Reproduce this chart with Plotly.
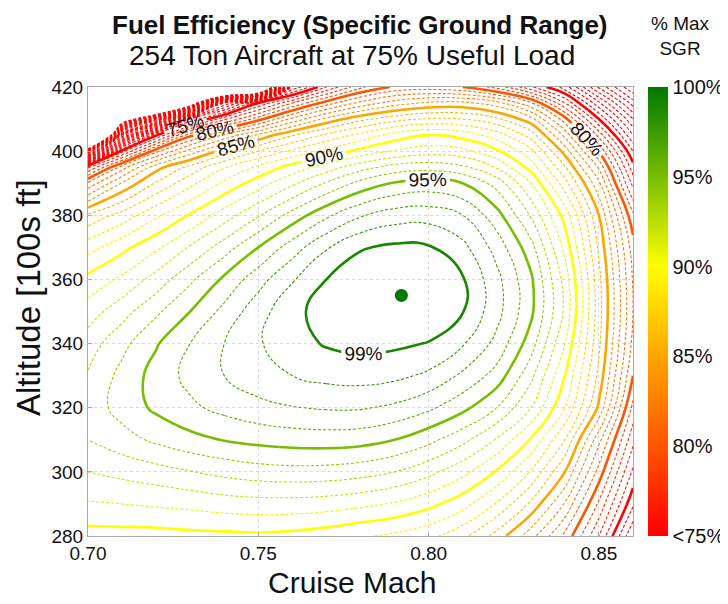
import numpy as np
import plotly.graph_objects as go

# ---- data ----
mach = [0.70, 0.71, 0.72, 0.73, 0.74, 0.75, 0.76, 0.77, 0.78, 0.79, 0.80,
        0.81, 0.82, 0.83, 0.84, 0.85, 0.86]
altitude = [280, 290, 300, 310, 320, 330, 340, 350, 360, 370, 380, 390,
            395, 400, 405, 410, 415, 420]

# % of max SGR, one row per altitude (ascending), one value per Mach
sgr_280 = [89.6, 89.6, 89.6, 89.7, 89.75, 89.8, 89.7, 89.45, 89.1, 88.8, 88.3, 87.3, 85.6, 83.4, 80.8, 77.0, 72.0]
sgr_290 = [90.9, 91.0, 91.15, 91.3, 91.5, 91.6, 91.6, 91.5, 91.25, 90.9, 90.3, 89.4, 87.9, 85.8, 82.9, 78.8, 74.2]
sgr_300 = [92.0, 92.3, 92.6, 92.95, 93.3, 93.55, 93.65, 93.6, 93.4, 93.0, 92.3, 91.3, 89.9, 87.9, 85.0, 80.6, 75.8]
sgr_310 = [93.0, 93.6, 94.2, 94.7, 95.05, 95.3, 95.45, 95.5, 95.4, 95.0, 94.3, 93.3, 91.9, 89.9, 87.0, 82.3, 77.3]
sgr_320 = [93.4, 94.4, 95.2, 95.8, 96.3, 96.7, 96.95, 97.1, 97.1, 96.8, 96.2, 95.3, 94.0, 92.0, 89.0, 84.8, 78.7]
sgr_330 = [93.1, 94.3, 95.4, 96.3, 97.0, 97.6, 98.0, 98.3, 98.4, 98.25, 97.8, 96.8, 95.6, 93.3, 90.0, 85.7, 80.0]
sgr_340 = [92.5, 93.7, 94.9, 96.0, 97.0, 97.9, 98.6, 99.1, 99.3, 99.2, 98.95, 98.1, 96.7, 94.5, 91.0, 86.2, 80.7]
sgr_350 = [91.5, 92.6, 93.8, 95.0, 96.3, 97.6, 98.7, 99.45, 99.8, 99.9, 99.75, 99.05, 97.35, 95.25, 91.8, 86.4, 81.0]
sgr_360 = [90.3, 91.2, 92.4, 93.8, 95.2, 96.6, 97.9, 99.0, 99.7, 99.85, 99.65, 99.1, 97.3, 95.2, 91.6, 86.3, 80.9]
sgr_370 = [88.6, 89.7, 90.8, 92.1, 93.5, 95.0, 96.5, 97.9, 98.9, 99.2, 99.1, 98.3, 96.6, 94.4, 90.7, 85.8, 80.5]
sgr_380 = [86.2, 87.4, 88.8, 90.1, 91.5, 92.9, 94.4, 95.8, 96.9, 97.5, 97.6, 97.0, 95.4, 92.9, 89.6, 85.0, 79.2]
sgr_390 = [81.2, 84.1, 86.1, 87.7, 89.2, 90.5, 91.8, 93.1, 94.3, 95.1, 95.4, 95.0, 93.6, 91.0, 87.4, 83.2, 76.6]
sgr_395 = [76.8, 81.5, 84.6, 86.3, 87.9, 89.2, 90.4, 91.5, 92.6, 93.4, 93.6, 93.2, 91.9, 89.6, 86.1, 81.8, 75.4]
sgr_400 = [55.0, 75.6, 80.7, 83.4, 85.5, 87.0, 88.2, 89.3, 90.3, 91.1, 91.5, 91.3, 90.2, 88.3, 84.6, 79.9, 74.0]
sgr_405 = [20.0, 64.0, 74.8, 79.7, 82.2, 84.2, 85.9, 87.2, 88.3, 89.4, 90.0, 89.6, 88.5, 86.6, 82.7, 77.6, 72.0]
sgr_410 = [10.0, 45.0, 58.0, 73.0, 76.8, 79.6, 82.3, 84.3, 85.7, 86.6, 87.1, 87.0, 86.2, 84.4, 80.4, 75.0, 70.0]
sgr_415 = [10.0, 20.0, 30.0, 45.0, 70.0, 75.0, 78.0, 80.5, 82.3, 83.5, 84.2, 84.3, 83.4, 81.2, 77.0, 72.2, 67.5]
sgr_420 = [10.0, 10.0, 10.0, 15.0, 25.0, 35.0, 72.0, 76.0, 78.8, 80.2, 80.4, 80.0, 78.6, 76.2, 73.6, 68.8, 65.0]

optimum_mach = [0.792]
optimum_alt = [355]

labelled_levels = [75, 80, 85, 90, 95, 99]
lowest_level = 50
highest_level = 99

colorbar_vals = [0.75, 0.80, 0.85, 0.90, 0.95, 1.00]
colorbar_text = ["<75%", "80%", "85%", "90%", "95%", "100%"]
x_ticks = [0.70, 0.75, 0.80, 0.85]
y_ticks = [280, 300, 320, 340, 360, 380, 400, 420]

z = np.array([sgr_280, sgr_290, sgr_300, sgr_310, sgr_320, sgr_330, sgr_340,
              sgr_350, sgr_360, sgr_370, sgr_380, sgr_390, sgr_395, sgr_400,
              sgr_405, sgr_410, sgr_415, sgr_420]) / 100.0

# colour scale (fraction of the 75%..100% range)
stops = [(0.0, (255, 0, 0)), (0.2, (255, 85, 0)), (0.4, (255, 165, 0)),
         (0.6, (255, 255, 0)), (0.8, (120, 190, 0)), (1.0, (0, 120, 0))]
cscale = [[p, "rgb(%d,%d,%d)" % c] for p, c in stops]


def level_color(v):
    t = min(max((v - 0.75) / 0.25, 0.0), 1.0)
    for (p0, c0), (p1, c1) in zip(stops[:-1], stops[1:]):
        if t <= p1 + 1e-9:
            f = 0 if p1 == p0 else (t - p0) / (p1 - p0)
            return "rgb(%d,%d,%d)" % tuple(round(a + (b - a) * f) for a, b in zip(c0, c1))
    return "rgb(%d,%d,%d)" % stops[-1][1]


FONT = "Liberation Sans, Arial, Helvetica, sans-serif"
label_font = dict(family=FONT, size=19, color="#111111")

fig = go.Figure()

for lev in range(lowest_level, highest_level + 1):
    v = lev / 100.0
    col = level_color(v)
    solid = lev in labelled_levels
    fig.add_trace(go.Contour(
        x=mach, y=altitude, z=z, showscale=False, hoverinfo="skip",
        colorscale=[[0, col], [1, col]],
        contours=dict(coloring="lines", start=v, end=v, size=0.01,
                      showlabels=solid, labelfont=label_font, labelformat=".0%"),
        line=dict(width=2.6 if solid else 1.1, dash="solid" if solid else "3px,2px",
                  smoothing=1.3),
    ))

# optimum point, also carrying the colour bar
fig.add_trace(go.Scatter(
    x=optimum_mach, y=optimum_alt, mode="markers", hoverinfo="skip",
    marker=dict(size=13, color=[1.0], colorscale=cscale, cmin=0.75, cmax=1.0,
                showscale=True,
                colorbar=dict(x=1.0275, xanchor="left", xpad=0, y=0.5,
                              yanchor="middle", ypad=0, len=449, lenmode="pixels",
                              thickness=20, outlinewidth=0,
                              tickvals=colorbar_vals, ticktext=colorbar_text,
                              ticks="", tickfont=dict(family=FONT, size=20, color="#111"))),
    showlegend=False,
))

# the page adds an 8px body margin, so the figure is 8px smaller each way
fig.update_layout(
    width=720, height=596,
    margin=dict(l=80, r=95, t=79, b=68, autoexpand=False),
    paper_bgcolor="white", plot_bgcolor="white",
    font=dict(family=FONT, color="#111"),
    showlegend=False,
    xaxis=dict(range=[0.70, 0.86], tickvals=x_ticks, tickformat=".2f",
               tickfont=dict(size=19), showgrid=True, gridcolor="#d9d9d9",
               griddash="dot", zeroline=False, showline=True, linecolor="#aaaaaa",
               mirror=True, ticks="inside", ticklen=4, tickcolor="#aaaaaa",
               automargin=False),
    yaxis=dict(range=[280, 420], tickvals=y_ticks, tickfont=dict(size=19),
               showgrid=True, gridcolor="#d9d9d9", griddash="dot", zeroline=False,
               showline=True, linecolor="#aaaaaa", mirror=True, ticks="inside",
               ticklen=4, tickcolor="#aaaaaa", automargin=False),
    annotations=[
        dict(text="<b>Fuel Efficiency (Specific Ground Range)</b>", x=360, y=25,
             showarrow=False, font=dict(size=26)),
        dict(text="254 Ton Aircraft at 75% Useful Load", x=352, y=56,
             showarrow=False, font=dict(size=28)),
        dict(text="% Max<br>SGR", x=680, y=36, showarrow=False,
             font=dict(size=19)),
        dict(text="Cruise Mach", x=352, y=582, showarrow=False,
             font=dict(size=30)),
        dict(text="Altitude [100s ft]", x=28, y=298, showarrow=False,
             textangle=-90, font=dict(size=33)),
    ],
)

# convert window pixel positions of annotations to paper coordinates
pw, ph = 545, 449
for ann in fig.layout.annotations:
    px, py = ann.x, ann.y
    ann.xref, ann.yref = "paper", "paper"
    ann.x = (px - 88) / pw
    ann.y = 1 + (87 - py) / ph
    ann.xanchor = "center"
    ann.yanchor = "middle"

fig.write_html("out.html")
